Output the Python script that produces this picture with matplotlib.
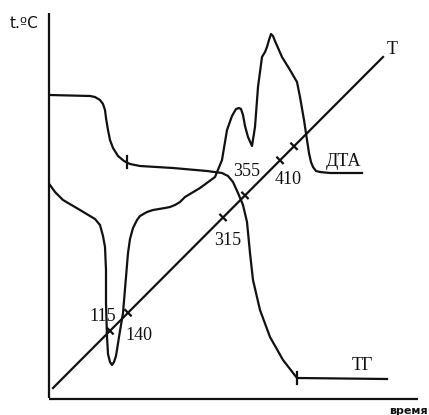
#!/usr/bin/env python3

import matplotlib
matplotlib.use('Agg')
import matplotlib.pyplot as plt
import numpy as np

# ======================================================================
# Readings (time along the bottom, height above it).
# ======================================================================

tg_time = [0, 40, 45, 50, 53, 55, 56, 58, 60, 63, 68, 74, 80, 90, 123,
           157, 172, 178, 183, 188, 193, 197, 200, 203, 210, 220, 233,
           247, 337]
tg_val = [304, 303, 302, 299, 295, 289, 281, 269, 259, 251, 243, 238,
          235, 233, 231, 228, 226, 223, 217, 206, 194, 177, 146, 119, 89,
          62, 39, 21, 20]

dta_time = [0, 5, 13, 30, 45, 50, 53, 55, 56, 56, 57, 58, 60, 62, 64, 66,
            69, 73, 76, 78, 80, 83, 87, 90, 97, 103, 115, 120, 125, 130,
            135, 150, 165, 172, 177, 182, 186, 189, 191, 193, 195, 198,
            202, 205, 208, 212, 215, 217, 219, 221, 223, 225, 232, 240,
            247, 250, 254, 257, 259, 261, 263, 266, 270, 280, 312]
dta_val = [214, 207, 199, 189, 180, 174, 163, 152, 129, 96, 62, 45, 37,
           34, 37, 43, 62, 86, 122, 146, 160, 171, 179, 183, 187, 189,
           191, 192, 194, 197, 202, 211, 222, 239, 269, 283, 290, 291,
           290, 284, 273, 262, 253, 272, 312, 342, 347, 352, 359, 365,
           363, 358, 342, 329, 317, 302, 279, 259, 246, 237, 232, 228,
           227, 226, 226]

T_time = [3, 333]
T_val = [11, 342]
T_marks = [60, 78, 173, 195, 230, 244]

tg_marks = [77, 247]

labels = [
    ('T', 342, 349),
    ('ДТА', 293, 238),
    ('355', 197, 227),
    ('410', 238, 219),
    ('315', 178, 159),
    ('115', 53, 83),
    ('140', 89, 64),
    ('ТГ', 312, 34),
]

# ======================================================================
# Draw.
# ======================================================================

fig = plt.figure(figsize=(4.29, 4.15), dpi=100)
ax = fig.add_axes([0, 0, 1, 1])
ax.set_xlim(-50, 379)
ax.set_ylim(-16, 399)
ax.axis('off')

lw = 1.6
col = '#111111'

# frame: ordinate and time axis
ax.plot([-1, -1], [1, 386], color=col, lw=lw, solid_capstyle='butt')
ax.plot([-1, 368], [0, 0], color=col, lw=lw, solid_capstyle='butt')

ax.plot(T_time, T_val, color=col, lw=lw)
ax.plot(tg_time, tg_val, color=col, lw=lw, solid_joinstyle='round')
ax.plot(dta_time, dta_val, color=col, lw=lw, solid_joinstyle='round')

# small marks across the temperature line
slope = (T_val[1] - T_val[0]) / (T_time[1] - T_time[0])
nx, ny = -slope / np.hypot(1, slope), 1 / np.hypot(1, slope)
for t in T_marks:
    v = np.interp(t, T_time, T_val)
    ax.plot([t - 4 * nx, t + 4 * nx], [v - 4 * ny, v + 4 * ny],
            color=col, lw=lw)

# vertical marks on TG
for t in tg_marks:
    v = np.interp(t, tg_time, tg_val)
    ax.plot([t, t], [v - 6, v + 6], color=col, lw=lw)

for txt, x, y in labels:
    ax.text(x, y, txt, ha='center', va='center', fontsize=13,
            family='Liberation Serif', color=col)

ax.text(-26, 376, 't.ºC', ha='center', va='center', fontsize=11,
        family='DejaVu Sans', color=col)
ax.text(358, -12, 'время', ha='center', va='center', fontsize=8,
        family='DejaVu Sans', fontweight='bold', color=col)

fig.savefig('out.png', dpi=100)
plt.close()
